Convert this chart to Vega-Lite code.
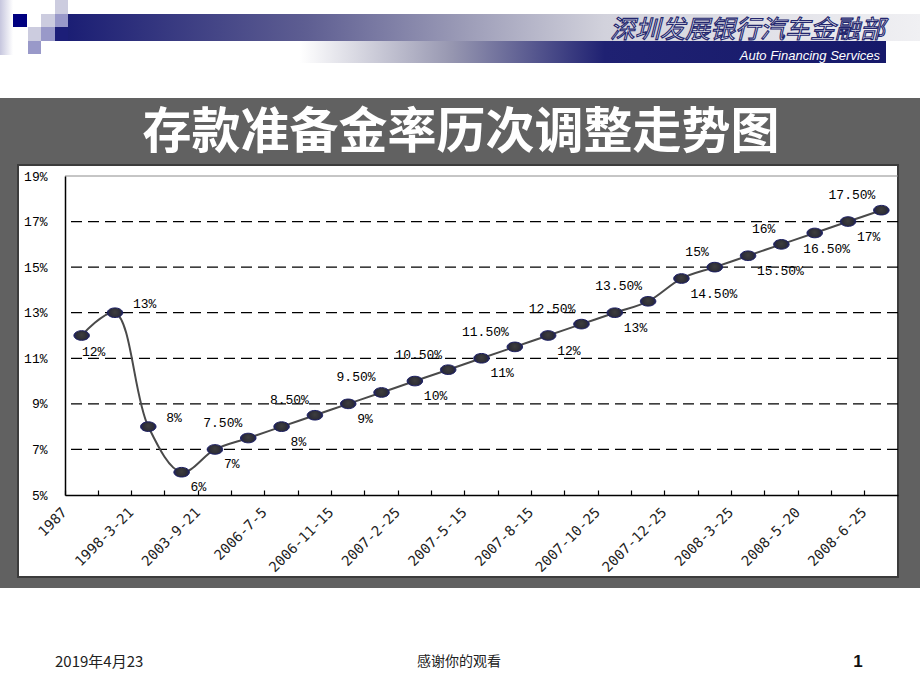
{
  "$schema": "https://vega.github.io/schema/vega-lite/v6.json",
  "width": 833,
  "height": 319,
  "autosize": {"type": "none"},
  "padding": {"left": 65, "top": 176, "right": 22, "bottom": 195},
  "background": "white",
  "config": {"view": {"stroke": null}},
  "data": {
    "values": [
      {"n": 0, "date": "1987", "rate": 12},
      {"n": 1, "date": "1988", "rate": 13},
      {"n": 2, "date": "1998-3-21", "rate": 8},
      {"n": 3, "date": "1999-11-21", "rate": 6},
      {"n": 4, "date": "2003-9-21", "rate": 7},
      {"n": 5, "date": "2004-4-25", "rate": 7.5},
      {"n": 6, "date": "2006-7-5", "rate": 8},
      {"n": 7, "date": "2006-8-15", "rate": 8.5},
      {"n": 8, "date": "2006-11-15", "rate": 9},
      {"n": 9, "date": "2007-1-15", "rate": 9.5},
      {"n": 10, "date": "2007-2-25", "rate": 10},
      {"n": 11, "date": "2007-4-16", "rate": 10.5},
      {"n": 12, "date": "2007-5-15", "rate": 11},
      {"n": 13, "date": "2007-6-5", "rate": 11.5},
      {"n": 14, "date": "2007-8-15", "rate": 12},
      {"n": 15, "date": "2007-9-25", "rate": 12.5},
      {"n": 16, "date": "2007-10-25", "rate": 13},
      {"n": 17, "date": "2007-11-26", "rate": 13.5},
      {"n": 18, "date": "2007-12-25", "rate": 14.5},
      {"n": 19, "date": "2008-1-25", "rate": 15},
      {"n": 20, "date": "2008-3-25", "rate": 15.5},
      {"n": 21, "date": "2008-4-25", "rate": 16},
      {"n": 22, "date": "2008-5-20", "rate": 16.5},
      {"n": 23, "date": "2008-6-15", "rate": 17},
      {"n": 24, "date": "2008-6-25", "rate": 17.5}
    ]
  },
  "layer": [
    {
      "data": {"values": [{}]},
      "mark": {"type": "rect", "fill": "#616161"},
      "encoding": {"x": {"value": -65}, "x2": {"value": 855}, "y": {"value": -78}, "y2": {"value": 412}}
    },
    {
      "data": {"values": [{}]},
      "mark": {"type": "rect", "fill": "white", "stroke": "#3c3c3c", "strokeWidth": 2},
      "encoding": {"x": {"value": -47}, "x2": {"value": 833}, "y": {"value": -11}, "y2": {"value": 401}}
    },
    {
      "data": {"values": [{}]},
      "mark": {"type": "rect", "fill": {"gradient": "linear", "x1": 0, "y1": 0, "x2": 1, "y2": 0, "stops": [{"offset": 0, "color": "#c6c6de"}, {"offset": 1, "color": "#ffffff"}]}},
      "encoding": {"x": {"value": -65}, "x2": {"value": -52}, "y": {"value": -176}, "y2": {"value": -121}}
    },
    {
      "data": {"values": [{}]},
      "mark": {"type": "rect", "fill": "#000080"},
      "encoding": {"x": {"value": -52}, "x2": {"value": -38}, "y": {"value": -162}, "y2": {"value": -149}}
    },
    {
      "data": {"values": [{}]},
      "mark": {"type": "rect", "fill": "#ccccdf"},
      "encoding": {"x": {"value": -24}, "x2": {"value": -10}, "y": {"value": -162}, "y2": {"value": -149}}
    },
    {
      "data": {"values": [{}]},
      "mark": {"type": "rect", "fill": "#ccccdf"},
      "encoding": {"x": {"value": -10}, "x2": {"value": 3}, "y": {"value": -176}, "y2": {"value": -162}}
    },
    {
      "data": {"values": [{}]},
      "mark": {"type": "rect", "fill": "#ccccdf"},
      "encoding": {"x": {"value": -37}, "x2": {"value": -24}, "y": {"value": -149}, "y2": {"value": -135}}
    },
    {
      "data": {"values": [{}]},
      "mark": {"type": "rect", "fill": "#9999c9"},
      "encoding": {"x": {"value": -10}, "x2": {"value": 3}, "y": {"value": -162}, "y2": {"value": -149}}
    },
    {
      "data": {"values": [{}]},
      "mark": {"type": "rect", "fill": "#9999c9"},
      "encoding": {"x": {"value": -24}, "x2": {"value": -10}, "y": {"value": -149}, "y2": {"value": -135}}
    },
    {
      "data": {"values": [{}]},
      "mark": {"type": "rect", "fill": "#9999c9"},
      "encoding": {"x": {"value": -37}, "x2": {"value": -24}, "y": {"value": -135}, "y2": {"value": -122}}
    },
    {
      "data": {"values": [{}]},
      "mark": {"type": "rect", "fill": "#1c1e78"},
      "encoding": {"x": {"value": -10}, "x2": {"value": 3}, "y": {"value": -149}, "y2": {"value": -135}}
    },
    {
      "data": {"values": [{}]},
      "mark": {"type": "rect", "fill": {"gradient": "linear", "x1": 0, "y1": 0, "x2": 1, "y2": 0, "stops": [{"offset": 0, "color": "#1b1e74"}, {"offset": 0.28, "color": "#5e5e92"}, {"offset": 0.46, "color": "#9a9ab6"}, {"offset": 0.63, "color": "#d2d2dc"}, {"offset": 1, "color": "#f0f0f3"}]}},
      "encoding": {"x": {"value": 3}, "x2": {"value": 855}, "y": {"value": -162}, "y2": {"value": -135}}
    },
    {
      "data": {"values": [{}]},
      "mark": {"type": "rect", "fill": {"gradient": "linear", "x1": 0, "y1": 0, "x2": 1, "y2": 0, "stops": [{"offset": 0, "color": "#ffffff"}, {"offset": 0.26, "color": "#9696b0"}, {"offset": 0.52, "color": "#1f2172"}, {"offset": 1, "color": "#16196a"}]}},
      "encoding": {"x": {"value": 235}, "x2": {"value": 821}, "y": {"value": -135}, "y2": {"value": -113}}
    },
    {
      "data": {"values": [{}]},
      "mark": {"type": "text", "text": "深圳发展银行汽车金融部", "font": "Noto Sans CJK SC", "fontSize": 25, "fontStyle": "italic", "fill": "#f0f0f5", "stroke": "#23266e", "strokeWidth": 1.1, "align": "right", "baseline": "middle"},
      "encoding": {"x": {"value": 820}, "y": {"value": -146}}
    },
    {
      "data": {"values": [{}]},
      "mark": {"type": "text", "text": "Auto Financing  Services", "font": "Liberation Sans Narrow, Liberation Sans", "fontSize": 13, "fontStyle": "italic", "fill": "white", "align": "right", "baseline": "middle"},
      "encoding": {"x": {"value": 815}, "y": {"value": -120}}
    },
    {
      "data": {"values": [{}]},
      "mark": {"type": "text", "text": "存款准备金率历次调整走势图", "font": "Noto Sans CJK SC", "fontSize": 49, "fontWeight": "bold", "fill": "white", "align": "center", "baseline": "middle"},
      "encoding": {"x": {"value": 396}, "y": {"value": -43}}
    },
    {
      "data": {"values": [{}]},
      "mark": {"type": "text", "text": "2019年4月23", "font": "Liberation Sans Narrow, Noto Sans CJK SC", "fontSize": 15, "fill": "#222222", "align": "left", "baseline": "middle"},
      "encoding": {"x": {"value": -10}, "y": {"value": 486}}
    },
    {
      "data": {"values": [{}]},
      "mark": {"type": "text", "text": "感谢你的观看", "font": "Noto Sans CJK SC", "fontSize": 14, "fill": "#222222", "align": "center", "baseline": "middle"},
      "encoding": {"x": {"value": 394}, "y": {"value": 486}}
    },
    {
      "data": {"values": [{}]},
      "mark": {"type": "text", "text": "1", "font": "Liberation Sans", "fontSize": 17, "fontWeight": "bold", "fill": "#111111", "align": "center", "baseline": "middle"},
      "encoding": {"x": {"value": 793}, "y": {"value": 486}}
    },
    {
      "data": {"values": [{"level": 7}, {"level": 9}, {"level": 11}, {"level": 13}, {"level": 15}, {"level": 17}]},
      "mark": {"type": "rule", "color": "black", "strokeWidth": 1.2, "strokeDash": [11, 6]},
      "encoding": {"y": {"field": "level", "type": "quantitative"}}
    },
    {
      "data": {"values": [{"level": 19}]},
      "mark": {"type": "rule", "color": "#8c8c8c", "strokeWidth": 1},
      "encoding": {"y": {"field": "level", "type": "quantitative"}}
    },
    {
      "mark": {"type": "line", "interpolate": "catmull-rom", "color": "#4a4a4a", "strokeWidth": 2},
      "encoding": {
        "x": {"field": "date", "type": "ordinal", "sort": null, "bandPosition": 0.5,
              "scale": {"type": "band", "paddingInner": 0, "paddingOuter": 0},
              "axis": {"title": null, "zindex": 1, "bandPosition": 0, "labelOffset": -16.66,
                       "labelExpr": "indexof(domain('x'), datum.value) % 2 === 0 ? datum.value : ''",
                       "labelAngle": -45, "labelAlign": "right", "labelBaseline": "middle", "labelPadding": 20,
                       "labelOverlap": false, "labelFlush": false, "labelBound": false,
                       "labelFont": "DejaVu Sans Mono", "labelFontSize": 14, "labelColor": "#222222",
                       "tickSize": -5, "tickColor": "black", "tickWidth": 1.2,
                       "domainColor": "black", "domainWidth": 1.5, "grid": false}},
        "y": {"field": "rate", "type": "quantitative",
              "scale": {"domain": [5, 19], "nice": false, "zero": false},
              "axis": {"title": null, "zindex": 1, "values": [5, 7, 9, 11, 13, 15, 17, 19],
                       "labelExpr": "datum.value + '%'", "ticks": false, "grid": false,
                       "labelPadding": 18, "labelFont": "Liberation Mono", "labelFontSize": 13, "labelColor": "black",
                       "domainColor": "black", "domainWidth": 1.5}}
      }
    },
    {
      "mark": {"type": "point", "shape": "M -1 0 A 1 0.62 0 1 0 1 0 A 1 0.62 0 1 0 -1 0 Z", "size": 240, "filled": true, "opacity": 1,
               "fill": {"gradient": "radial", "x1": 0.5, "y1": 0.45, "x2": 0.5, "y2": 0.5, "r1": 0, "r2": 0.55, "stops": [{"offset": 0, "color": "#3e3e3e"}, {"offset": 0.6, "color": "#2c2c36"}, {"offset": 1, "color": "#1c2070"}]},
               "stroke": "#1b1e62", "strokeWidth": 1},
      "encoding": {
        "x": {"field": "date", "type": "ordinal", "sort": null, "bandPosition": 0.5},
        "y": {"field": "rate", "type": "quantitative"}
      }
    },
    {
      "transform": [
        {"filter": "indexof([5, 7, 9, 11, 13, 15, 17, 19, 21, 24], datum.n) >= 0"},
        {"calculate": "(datum.rate % 1 === 0 ? datum.rate : format(datum.rate, '.2f')) + '%'", "as": "lab"}
      ],
      "mark": {"type": "text", "font": "Liberation Mono", "fontSize": 13, "color": "black", "align": "right", "baseline": "middle", "dx": -6, "dy": -15},
      "encoding": {
        "x": {"field": "date", "type": "ordinal", "sort": null, "bandPosition": 0.5},
        "y": {"field": "rate", "type": "quantitative"},
        "text": {"field": "lab"}
      }
    },
    {
      "transform": [
        {"filter": "datum.n === 1 || datum.n === 2"},
        {"calculate": "(datum.rate % 1 === 0 ? datum.rate : format(datum.rate, '.2f')) + '%'", "as": "lab"}
      ],
      "mark": {"type": "text", "font": "Liberation Mono", "fontSize": 13, "color": "black", "align": "left", "baseline": "middle", "dx": 18, "dy": -9},
      "encoding": {
        "x": {"field": "date", "type": "ordinal", "sort": null, "bandPosition": 0.5},
        "y": {"field": "rate", "type": "quantitative"},
        "text": {"field": "lab"}
      }
    },
    {
      "transform": [
        {"filter": "datum.n === 0 || datum.n === 22"},
        {"calculate": "(datum.rate % 1 === 0 ? datum.rate : format(datum.rate, '.2f')) + '%'", "as": "lab"}
      ],
      "mark": {"type": "text", "font": "Liberation Mono", "fontSize": 13, "color": "black", "align": "center", "baseline": "middle", "dx": 12, "dy": 16},
      "encoding": {
        "x": {"field": "date", "type": "ordinal", "sort": null, "bandPosition": 0.5},
        "y": {"field": "rate", "type": "quantitative"},
        "text": {"field": "lab"}
      }
    },
    {
      "transform": [
        {"filter": "indexof([3, 4, 6, 8, 10, 12, 14, 16, 18, 20, 23], datum.n) >= 0"},
        {"calculate": "(datum.rate % 1 === 0 ? datum.rate : format(datum.rate, '.2f')) + '%'", "as": "lab"}
      ],
      "mark": {"type": "text", "font": "Liberation Mono", "fontSize": 13, "color": "black", "align": "left", "baseline": "middle", "dx": 9, "dy": 15},
      "encoding": {
        "x": {"field": "date", "type": "ordinal", "sort": null, "bandPosition": 0.5},
        "y": {"field": "rate", "type": "quantitative"},
        "text": {"field": "lab"}
      }
    }
  ]
}
